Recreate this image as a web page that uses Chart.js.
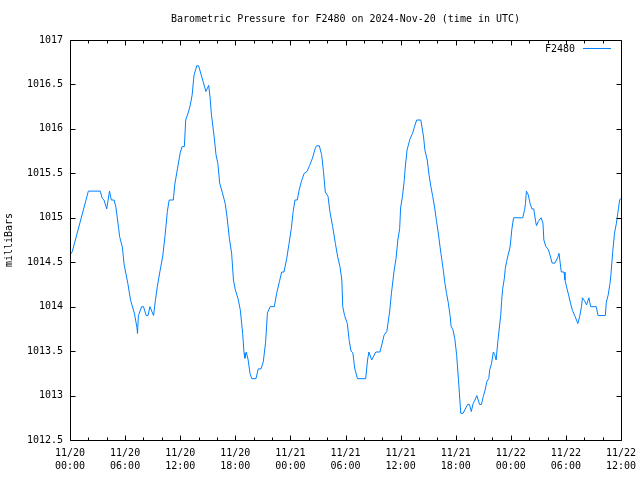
<!DOCTYPE html>
<html>
<head>
<meta charset="utf-8">
<script src="https://cdn.jsdelivr.net/npm/chart.js@4.4.0/dist/chart.umd.min.js"></script>
<style>
  html, body { margin: 0; padding: 0; background: #fff; }
  canvas { display: block; }
</style>
</head>
<body>
<canvas id="c" width="640" height="480"></canvas>
<script>
// ---- data (hours since 2024-11-20 00:00 UTC, pressure in milliBars) ----
const hours = [
  0, 0.25, 2.0, 3.3, 3.5, 3.7, 4.0, 4.3, 4.5, 4.8,
  5.0, 5.3, 5.4, 5.7, 5.9, 6.3, 6.6, 7.0, 7.3, 7.35,
  7.45, 7.8, 8.0, 8.3, 8.5, 8.7, 9.1, 9.3, 9.5, 9.8,
  10.1, 10.35, 10.6, 10.8, 11.25, 11.4, 11.7, 12.0, 12.2, 12.45,
  12.6, 12.9, 13.1, 13.3, 13.5, 13.8, 14.0, 14.2, 14.5, 14.8,
  15.1, 15.25, 15.4, 15.7, 15.9, 16.1, 16.3, 16.6, 16.9, 17.1,
  17.35, 17.6, 17.8, 18.0, 18.3, 18.55, 18.8, 18.95, 19.05, 19.2,
  19.4, 19.6, 19.8, 20.25, 20.5, 20.8, 21.05, 21.3, 21.5, 21.8,
  22.25, 22.5, 22.8, 23.05, 23.3, 23.6, 23.85, 24.1, 24.3, 24.5,
  24.75, 24.95, 25.2, 25.5, 25.8, 26.1, 26.4, 26.7, 26.85, 27.15,
  27.4, 27.6, 27.8, 28.1, 28.3, 28.6, 28.9, 29.15, 29.4, 29.6,
  29.7, 29.9, 30.2, 30.4, 30.6, 30.8, 31.0, 31.3, 32.2, 32.4,
  32.55, 32.85, 33.3, 33.75, 34.0, 34.2, 34.5, 34.8, 35.0, 35.3,
  35.5, 35.7, 35.9, 36.0, 36.2, 36.4, 36.5, 36.7, 36.85, 37.0,
  37.3, 37.5, 37.75, 38.2, 38.5, 38.65, 38.9, 39.1, 39.3, 39.5,
  39.7, 39.9, 40.1, 40.3, 40.5, 40.65, 40.8, 41.0, 41.2, 41.4,
  41.5, 41.7, 41.9, 42.1, 42.3, 42.4, 42.55, 42.8, 43.1, 43.3,
  43.5, 43.7, 43.9, 44.1, 44.3, 44.6, 44.8, 45.0, 45.2, 45.4,
  45.6, 45.7, 45.9, 46.1, 46.25, 46.4, 46.6, 46.75, 46.9, 47.0,
  47.1, 47.3, 47.4, 47.55, 47.7, 47.9, 48.0, 48.1, 48.3, 49.3,
  49.5, 49.6, 49.7, 49.9, 50.1, 50.3, 50.5, 50.7, 50.8, 51.0,
  51.3, 51.5, 51.6, 51.8, 52.1, 52.3, 52.5, 52.8, 53.1, 53.25,
  53.5, 53.8, 53.9, 54.1, 54.3, 54.5, 54.7, 55.0, 55.3, 55.5,
  55.7, 55.8, 56.0, 56.25, 56.5, 56.7, 57.3, 57.5, 58.3, 58.4,
  58.6, 58.8, 58.9, 59.1, 59.3, 59.5, 59.65, 59.85, 60.0
];
const pressure = [
  1014.58, 1014.62, 1015.3, 1015.3, 1015.22, 1015.2, 1015.1, 1015.3, 1015.2, 1015.2,
  1015.12, 1014.88, 1014.79, 1014.67, 1014.47, 1014.26, 1014.07, 1013.93, 1013.76, 1013.7,
  1013.9, 1014.0, 1014.0, 1013.9, 1013.9, 1014.0, 1013.9, 1014.07, 1014.22, 1014.4,
  1014.57, 1014.8, 1015.07, 1015.2, 1015.2, 1015.37, 1015.55, 1015.73, 1015.8, 1015.8,
  1016.1, 1016.19, 1016.27, 1016.38, 1016.6, 1016.71, 1016.71, 1016.64, 1016.53, 1016.42,
  1016.49, 1016.36, 1016.16, 1015.91, 1015.71, 1015.61, 1015.39, 1015.28, 1015.16, 1015.01,
  1014.77, 1014.6, 1014.3, 1014.19, 1014.09, 1013.96, 1013.7, 1013.48, 1013.42, 1013.49,
  1013.4, 1013.25, 1013.19, 1013.19, 1013.3, 1013.3, 1013.38, 1013.6, 1013.93, 1014.0,
  1014.0, 1014.15, 1014.28, 1014.39, 1014.39, 1014.54, 1014.71, 1014.88, 1015.07, 1015.2,
  1015.2, 1015.31, 1015.41, 1015.5, 1015.52, 1015.59, 1015.67, 1015.78, 1015.81, 1015.81,
  1015.71, 1015.52, 1015.29, 1015.24, 1015.07, 1014.9, 1014.71, 1014.56, 1014.45, 1014.3,
  1014.0, 1013.9, 1013.81, 1013.62, 1013.5, 1013.48, 1013.31, 1013.19, 1013.19, 1013.4,
  1013.49, 1013.4, 1013.49, 1013.49, 1013.59, 1013.68, 1013.72, 1013.94, 1014.15, 1014.41,
  1014.54, 1014.75, 1014.88, 1015.11, 1015.24, 1015.42, 1015.56, 1015.76, 1015.82, 1015.88,
  1015.95, 1016.02, 1016.1, 1016.1, 1015.91, 1015.76, 1015.65, 1015.48, 1015.35, 1015.24,
  1015.12, 1014.97, 1014.83, 1014.67, 1014.52, 1014.41, 1014.28, 1014.15, 1014.04, 1013.89,
  1013.78, 1013.74, 1013.64, 1013.46, 1013.18, 1013.03, 1012.8, 1012.8, 1012.86, 1012.9,
  1012.9, 1012.82, 1012.91, 1012.95, 1013.0, 1012.9, 1012.9, 1012.99, 1013.06, 1013.16,
  1013.19, 1013.29, 1013.36, 1013.49, 1013.46, 1013.4, 1013.62, 1013.76, 1013.9, 1014.06,
  1014.19, 1014.32, 1014.43, 1014.51, 1014.58, 1014.66, 1014.75, 1014.86, 1015.0, 1015.0,
  1015.09, 1015.16, 1015.3, 1015.26, 1015.16, 1015.1, 1015.1, 1014.96, 1014.91, 1014.96,
  1015.0, 1014.94, 1014.75, 1014.68, 1014.64, 1014.57, 1014.49, 1014.49, 1014.55, 1014.6,
  1014.39, 1014.39, 1014.3, 1014.21, 1014.13, 1014.04, 1013.96, 1013.89, 1013.81, 1013.89,
  1014.0, 1014.1, 1014.07, 1014.02, 1014.1, 1014.0, 1014.0, 1013.9, 1013.9, 1014.05,
  1014.13, 1014.26, 1014.36, 1014.62, 1014.83, 1014.94, 1015.05, 1015.2, 1015.22
];
const xTickDates = ["11/20", "11/20", "11/20", "11/20", "11/21", "11/21", "11/21", "11/21", "11/22", "11/22", "11/22"];
const xTickTimes = ["00:00", "06:00", "12:00", "18:00", "00:00", "06:00", "12:00", "18:00", "00:00", "06:00", "12:00"];
const yTickLabels = ["1012.5", "1013", "1013.5", "1014", "1014.5", "1015", "1015.5", "1016", "1016.5", "1017"];
const seriesName = "F2480";
const chartTitle = "Barometric Pressure for F2480 on 2024-Nov-20 (time in UTC)";
const yAxisTitle = "milliBars";

// ---- chart ----
const FONT = "'DejaVu Sans Mono', 'Liberation Mono', monospace";
const LINE_COLOR = "rgb(0,128,255)";
const X_MAJOR = 6, X_MINOR = 2, Y_STEP = 0.5;

const points = hours.map((h, i) => ({ x: h, y: pressure[i] }));

const framePlugin = {
  id: 'gnuplotFrame',
  afterDraw(chart) {
    const ctx = chart.ctx;
    const a = chart.chartArea;
    const xs = chart.scales.x, ys = chart.scales.y;
    const L = Math.round(a.left) + 0.5, R = Math.round(a.right) + 0.5;
    const T = Math.round(a.top) + 0.5, B = Math.round(a.bottom) + 0.5;
    ctx.save();
    ctx.strokeStyle = '#000';
    ctx.lineWidth = 1;
    ctx.beginPath();
    ctx.rect(L, T, R - L, B - T);
    // x ticks (inward, top & bottom)
    for (let v = xs.min; v <= xs.max + 1e-9; v += X_MINOR) {
      const px = Math.round(xs.getPixelForValue(v)) + 0.5;
      const len = (Math.abs(v % X_MAJOR) < 1e-9) ? 5 : 3;
      ctx.moveTo(px, B); ctx.lineTo(px, B - len);
      ctx.moveTo(px, T); ctx.lineTo(px, T + len);
    }
    // y ticks (inward, left & right)
    for (let v = ys.min; v <= ys.max + 1e-9; v += Y_STEP) {
      const py = Math.round(ys.getPixelForValue(v)) + 0.5;
      ctx.moveTo(L, py); ctx.lineTo(L + 5, py);
      ctx.moveTo(R, py); ctx.lineTo(R - 5, py);
    }
    ctx.stroke();

    // title centred over plot area
    ctx.fillStyle = '#000';
    ctx.font = '10px ' + FONT;
    ctx.textAlign = 'center';
    ctx.textBaseline = 'middle';
    ctx.fillText(chartTitle, (a.left + a.right) / 2, a.top - 21);

    // key (top-right inside plot)
    ctx.textAlign = 'right';
    ctx.fillText(seriesName, a.right - 46, a.top + 9);
    ctx.strokeStyle = LINE_COLOR;
    ctx.beginPath();
    ctx.moveTo(a.right - 38, a.top + 8.5);
    ctx.lineTo(a.right - 10, a.top + 8.5);
    ctx.stroke();
    ctx.restore();
  }
};

new Chart(document.getElementById('c'), {
  type: 'line',
  data: {
    datasets: [{
      label: seriesName,
      data: points,
      borderColor: LINE_COLOR,
      borderWidth: 1,
      pointRadius: 0,
      tension: 0,
      fill: false
    }]
  },
  options: {
    responsive: false,
    animation: false,
    devicePixelRatio: 1,
    layout: { padding: { top: 40, right: 19, left: 0, bottom: 0 } },
    plugins: {
      legend: { display: false },
      title: { display: false },
      tooltip: { enabled: false }
    },
    scales: {
      x: {
        type: 'linear',
        min: 0,
        max: 60,
        afterFit(scale) {
          scale.height = 40;
          scale.paddingLeft = 0;
          scale.paddingRight = 0;
        },
        grid: { display: false, drawTicks: false },
        border: { display: false },
        ticks: {
          stepSize: X_MAJOR,
          autoSkip: false,
          maxRotation: 0,
          padding: 7,
          color: '#000',
          font: { family: FONT, size: 10, lineHeight: 1.3 },
          callback: (v) => {
            const i = Math.round(v / X_MAJOR);
            return [xTickDates[i], xTickTimes[i]];
          }
        }
      },
      y: {
        min: 1012.5,
        max: 1017,
        afterFit(scale) { scale.width = 70; },
        grid: { display: false, drawTicks: false },
        border: { display: false },
        title: {
          display: true,
          text: yAxisTitle,
          color: '#000',
          font: { family: FONT, size: 10, lineHeight: 1.2 },
          padding: { top: 3, bottom: 0 }
        },
        ticks: {
          stepSize: Y_STEP,
          autoSkip: false,
          padding: 7,
          color: '#000',
          font: { family: FONT, size: 10 },
          callback: (v) => yTickLabels[Math.round((v - 1012.5) / Y_STEP)]
        }
      }
    }
  },
  plugins: [framePlugin]
});
</script>
</body>
</html>
